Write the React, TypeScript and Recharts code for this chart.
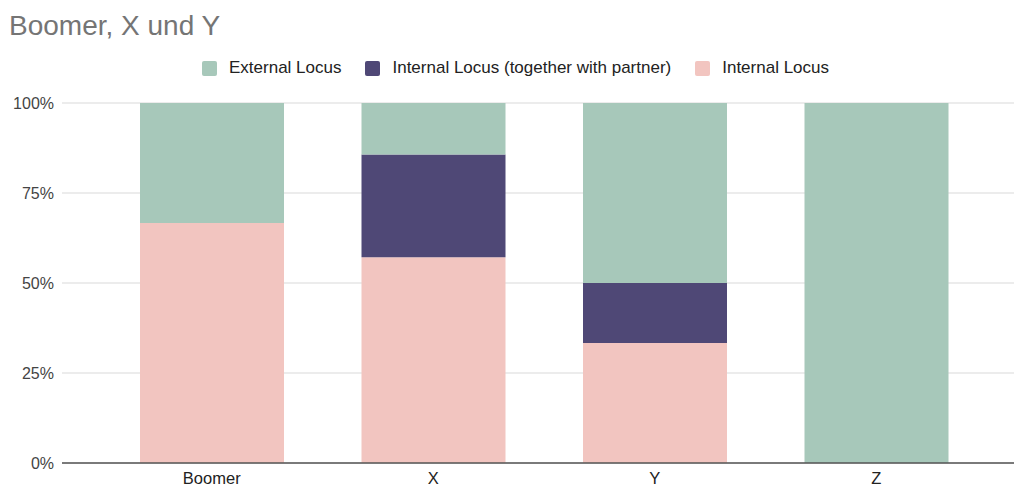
import { Bar, BarChart, CartesianGrid, XAxis, YAxis } from "recharts";

const categories = ["Boomer", "X", "Y", "Z"];
const internalLocus = [66.67, 57.14, 33.33, 0];
const partnerLocus = [0, 28.57, 16.67, 0];
const externalLocus = [33.33, 14.29, 50, 100];
const yTicks = [0, 25, 50, 75, 100];

const COLORS = {
  external: "#a7c8ba",
  partner: "#4f4876",
  internal: "#f2c5c0",
};

const legendItems = [
  { label: "External Locus", color: COLORS.external },
  { label: "Internal Locus (together with partner)", color: COLORS.partner },
  { label: "Internal Locus", color: COLORS.internal },
];

const data = categories.map((name, i) => ({
  name,
  internal: internalLocus[i],
  partner: partnerLocus[i],
  external: externalLocus[i],
}));

const FONT = "'Liberation Sans', Arial, sans-serif";

export default function App() {
  return (
    <div style={{ position: "absolute", left: 0, top: 0, width: 1014, height: 486, background: "#fff", fontFamily: FONT }}>
      <div style={{ position: "absolute", left: 9, top: 10, fontSize: 28, color: "#757575", lineHeight: "32px" }}>
        Boomer, X und Y
      </div>

      {/* legend */}
      <div style={{ position: "absolute", left: 202, top: 58, display: "flex", alignItems: "center", fontSize: 17, color: "#222" }}>
        {legendItems.map((it) => (
          <div key={it.label} style={{ display: "flex", alignItems: "center", marginRight: 24 }}>
            <span style={{ width: 15, height: 15, borderRadius: 2, background: it.color, display: "inline-block", marginRight: 12 }} />
            <span>{it.label}</span>
          </div>
        ))}
      </div>

      <BarChart width={1014} height={486} data={data} margin={{ top: 103, right: 0, bottom: 0, left: 0 }} barSize={144}>
        <CartesianGrid vertical={false} stroke="#d9d9d9" />
        <XAxis
          dataKey="name"
          height={23}
          padding={{ left: 39, right: 27 }}
          axisLine={{ stroke: "#555", strokeWidth: 1.5 }}
          tickLine={false}
          tick={{ fill: "#222", fontSize: 16.5, fontFamily: FONT, dy: 1 }}
        />
        <YAxis
          width={62}
          domain={[0, 100]}
          ticks={yTicks}
          tickFormatter={(v) => `${v}%`}
          axisLine={false}
          tickLine={false}
          tick={{ fill: "#444", fontSize: 16, fontFamily: FONT }}
        />
        <Bar dataKey="internal" stackId="a" fill={COLORS.internal} isAnimationActive={false} />
        <Bar dataKey="partner" stackId="a" fill={COLORS.partner} isAnimationActive={false} />
        <Bar dataKey="external" stackId="a" fill={COLORS.external} isAnimationActive={false} />
      </BarChart>
    </div>
  );
}
